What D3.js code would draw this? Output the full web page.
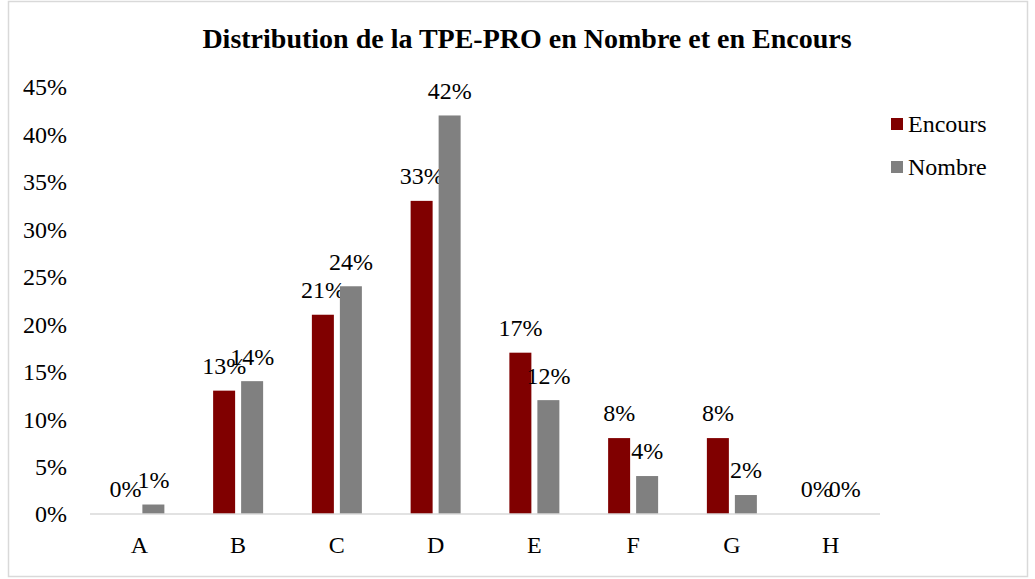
<!DOCTYPE html>
<html>
<head>
<meta charset="utf-8">
<script src="https://cdn.jsdelivr.net/npm/d3@7"></script>
<style>
  body { margin: 0; background: #fff; }
  text { font-family: "Liberation Serif", "Times New Roman", serif; fill: #000; }
</style>
</head>
<body>
<script>
// data
var categories = ["A", "B", "C", "D", "E", "F", "G", "H"];
var encours = [0, 13, 21, 33, 17, 8, 8, 0];
var nombre = [1, 14, 24, 42, 12, 4, 2, 0];
var seriesNames = ["Encours", "Nombre"];
var seriesColors = ["#800000", "#808080"];
var yTicks = [0, 5, 10, 15, 20, 25, 30, 35, 40, 45];

var W = 1035, H = 579;
var svg = d3.select("body").append("svg")
    .attr("width", W)
    .attr("height", H);

// outer frame
svg.append("rect")
    .attr("x", 8.5).attr("y", 1.5)
    .attr("width", 1019).attr("height", 575)
    .attr("fill", "#fff")
    .attr("stroke", "#d9d9d9")
    .attr("stroke-width", 1.5);

svg.append("text")
    .attr("x", 527).attr("y", 48)
    .attr("text-anchor", "middle")
    .style("font-size", "28px")
    .style("font-weight", "bold")
    .text("Distribution de la TPE-PRO en Nombre et en Encours");

var x = d3.scaleBand().domain(categories).range([90, 880]);
var y = d3.scaleLinear().domain([0, 45]).range([514, 87]);

var barW = 22, gap = 6;

// y labels
svg.selectAll(".ylab")
    .data(yTicks)
    .enter()
    .append("text")
    .attr("class", "ylab")
    .attr("x", 67)
    .attr("y", function(d){ return y(d); })
    .attr("dy", "0.35em")
    .attr("text-anchor", "end")
    .style("font-size", "24px")
    .text(function(d){ return d + "%"; });

// x labels
svg.selectAll(".xlab")
    .data(categories)
    .enter()
    .append("text")
    .attr("class", "xlab")
    .attr("x", function(d){ return x(d) + x.bandwidth() / 2; })
    .attr("y", 545)
    .attr("dy", "0.35em")
    .attr("text-anchor", "middle")
    .style("font-size", "24px")
    .text(function(d){ return d; });

var series = [encours, nombre];
series.forEach(function(vals, s) {
    var rows = categories.map(function(c, i){ return {cat: c, v: vals[i]}; });
    var off = s == 0 ? -(gap / 2 + barW) : gap / 2;

    svg.selectAll(".bar" + s)
        .data(rows)
        .enter()
        .append("rect")
        .attr("class", "bar" + s)
        .attr("x", function(d){ return x(d.cat) + x.bandwidth() / 2 + off; })
        .attr("y", function(d){ return y(d.v); })
        .attr("width", barW)
        .attr("height", function(d){ return y(0) - y(d.v); })
        .attr("fill", seriesColors[s]);

    svg.selectAll(".lab" + s)
        .data(rows)
        .enter()
        .append("text")
        .attr("class", "lab" + s)
        .attr("x", function(d){ return x(d.cat) + x.bandwidth() / 2 + off + barW / 2; })
        .attr("y", function(d){ return y(d.v) - 25; })
        .attr("dy", "0.35em")
        .attr("text-anchor", "middle")
        .style("font-size", "24px")
        .text(function(d){ return d.v + "%"; });
});

// axis line
svg.append("line")
    .attr("x1", 90).attr("x2", 880)
    .attr("y1", y(0)).attr("y2", y(0))
    .attr("stroke", "#d9d9d9")
    .attr("stroke-width", 1.5);

// legend
var legend = svg.selectAll(".leg")
    .data(seriesNames)
    .enter()
    .append("g")
    .attr("class", "leg")
    .attr("transform", function(d, i){ return "translate(891," + (124 + i * 43) + ")"; });

legend.append("rect")
    .attr("x", 0).attr("y", -6)
    .attr("width", 12).attr("height", 12)
    .attr("fill", function(d, i){ return seriesColors[i]; });

legend.append("text")
    .attr("x", 17).attr("y", 0)
    .attr("dy", "0.35em")
    .style("font-size", "24px")
    .text(function(d){ return d; });
</script>
</body>
</html>
